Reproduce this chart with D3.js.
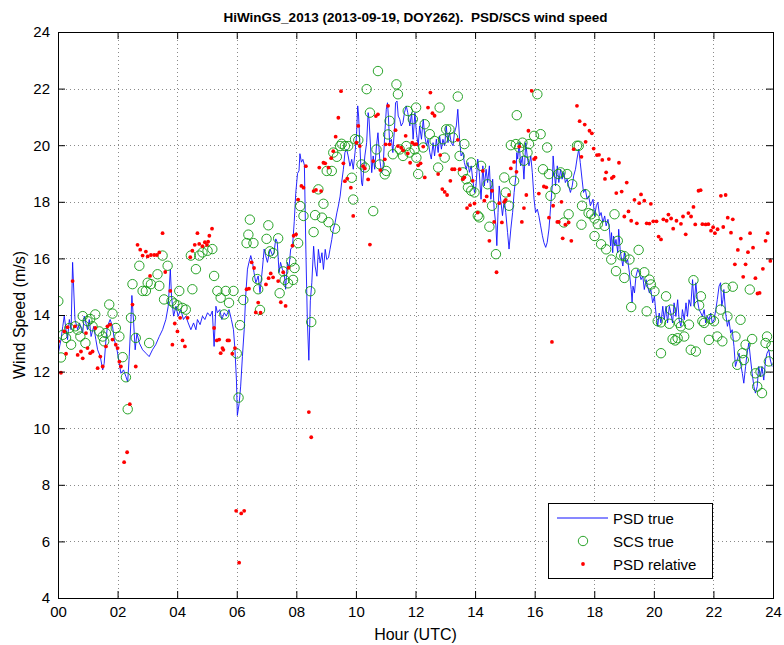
<!DOCTYPE html>
<html><head><meta charset="utf-8">
<script src="https://cdn.jsdelivr.net/npm/d3@7"></script>
<style>
body{margin:0;background:#fff}
text{font-family:"Liberation Sans",Arial,Helvetica,sans-serif;fill:#000;white-space:pre}
</style>
</head><body>
<svg id="chart" width="784" height="645"></svg>
<script>
// ---------------- data ----------------
const titleText = "HiWinGS_2013 (2013-09-19, DOY262).  PSD/SCS wind speed";
const xLabel = "Hour (UTC)";
const yLabel = "Wind Speed (m/s)";
const xTicks = [0,2,4,6,8,10,12,14,16,18,20,22,24];
const yTicks = [4,6,8,10,12,14,16,18,20,22,24];
const legendLabels = ["PSD true","SCS true","PSD relative"];

// PSD true wind speed [hour, m/s]
const psdTrue = [
[0.01,12.65],[0.10,13.13],[0.16,13.60],[0.21,13.96],[0.27,13.48],[0.32,13.13],[0.38,13.84],[0.44,13.48],[0.49,15.86],[0.57,13.84],
[0.66,13.48],[0.72,13.72],[0.83,13.36],[0.88,13.96],[0.99,13.48],[1.05,13.84],[1.11,13.24],[1.20,13.60],[1.27,13.13],[1.33,12.77],
[1.42,12.53],[1.50,12.06],[1.55,12.29],[1.61,13.13],[1.66,13.60],[1.75,13.84],[1.83,13.60],[1.89,13.13],[1.98,12.77],[2.06,12.29],
[2.11,11.94],[2.20,12.06],[2.28,11.82],[2.34,11.64],[2.39,12.53],[2.45,13.84],[2.48,14.69],[2.54,13.72],[2.59,12.77],[2.65,13.36],
[2.73,13.01],[2.84,12.77],[2.95,12.65],[3.06,12.53],[3.17,12.77],[3.28,12.95],[3.40,13.24],[3.51,13.48],[3.62,13.84],[3.70,14.31],
[3.77,15.62],[3.81,14.67],[3.88,13.96],[3.96,14.31],[4.03,13.96],[4.12,14.19],[4.21,13.84],[4.29,13.96],[4.37,13.72],[4.46,13.48],
[4.55,13.72],[4.63,13.48],[4.68,13.84],[4.77,13.66],[4.85,13.96],[4.93,13.84],[5.02,14.08],[5.11,13.96],[5.18,14.14],[5.24,12.89],
[5.30,14.31],[5.35,14.08],[5.43,14.19],[5.50,13.84],[5.58,14.08],[5.65,13.96],[5.74,14.19],[5.82,13.84],[5.89,13.48],[5.94,12.77],
[5.99,11.70],[6.02,10.45],[6.08,10.87],[6.13,11.46],[6.19,12.53],[6.25,13.48],[6.30,14.67],[6.36,15.62],[6.41,15.86],[6.47,16.10],
[6.53,15.86],[6.58,15.50],[6.64,15.14],[6.72,15.38],[6.78,14.79],[6.86,15.62],[6.92,16.33],[6.97,16.10],[7.03,15.86],[7.12,16.33],
[7.20,16.10],[7.25,16.21],[7.31,16.69],[7.36,16.57],[7.42,15.50],[7.47,15.86],[7.53,15.62],[7.59,15.50],[7.64,14.91],[7.70,15.86],
[7.75,15.62],[7.81,16.33],[7.87,16.40],[7.93,17.30],[7.98,18.30],[8.04,19.00],[8.09,19.10],[8.12,19.70],[8.17,19.40],[8.22,19.50],
[8.27,19.30],[8.32,16.30],[8.37,13.80],[8.42,12.40],[8.47,14.50],[8.52,15.14],[8.58,16.43],[8.63,15.73],[8.69,15.37],[8.74,16.32],
[8.80,15.84],[8.86,16.20],[8.91,15.61],[8.97,16.32],[9.02,15.96],[9.08,16.02],[9.13,16.32],[9.19,16.67],[9.24,17.02],[9.30,17.26],
[9.36,17.61],[9.41,17.85],[9.47,18.20],[9.52,18.67],[9.58,19.15],[9.63,19.74],[9.69,19.85],[9.74,19.62],[9.80,19.26],[9.86,19.50],
[9.91,19.15],[9.97,19.74],[10.02,20.33],[10.06,21.39],[10.09,21.03],[10.13,20.09],[10.19,18.67],[10.22,18.56],[10.27,19.26],[10.30,19.62],
[10.36,20.09],[10.41,21.15],[10.44,20.92],[10.49,19.97],[10.53,19.03],[10.58,19.62],[10.63,19.15],[10.69,19.97],[10.74,20.44],[10.80,19.50],
[10.86,19.03],[10.91,19.15],[10.97,20.44],[11.02,21.27],[11.06,21.50],[11.09,21.03],[11.13,20.09],[11.19,20.21],[11.24,19.74],[11.30,20.68],
[11.33,21.50],[11.38,21.56],[11.42,21.03],[11.47,20.92],[11.52,20.68],[11.58,20.80],[11.63,21.15],[11.69,21.39],[11.74,21.15],[11.81,20.68],
[11.87,21.15],[11.92,20.21],[11.98,21.15],[12.03,20.45],[12.09,19.98],[12.14,20.68],[12.20,20.21],[12.26,20.92],[12.31,20.33],[12.37,19.98],
[12.42,20.21],[12.48,19.74],[12.53,19.51],[12.59,20.09],[12.64,19.62],[12.70,20.21],[12.76,19.74],[12.81,20.33],[12.87,19.86],[12.92,20.21],
[12.98,19.98],[13.03,20.68],[13.09,20.09],[13.14,20.45],[13.20,20.09],[13.26,19.98],[13.31,20.45],[13.37,20.68],[13.42,21.27],[13.48,20.21],
[13.53,19.62],[13.59,19.74],[13.64,19.39],[13.70,19.15],[13.76,19.39],[13.81,19.04],[13.87,19.27],[13.92,18.80],[13.98,18.33],[14.03,18.56],
[14.09,19.51],[14.14,19.04],[14.20,18.09],[14.26,19.27],[14.31,18.56],[14.37,19.15],[14.42,18.68],[14.48,19.27],[14.53,18.09],[14.59,18.80],
[14.64,17.74],[14.70,17.15],[14.73,16.45],[14.77,17.62],[14.81,18.56],[14.87,17.98],[14.92,17.51],[14.98,18.09],[15.03,17.62],[15.09,16.92],
[15.14,16.33],[15.20,17.04],[15.26,17.62],[15.31,18.33],[15.37,18.92],[15.40,19.74],[15.43,19.51],[15.48,20.09],[15.53,19.27],[15.59,19.62],
[15.64,18.80],[15.70,20.09],[15.76,19.51],[15.81,19.27],[15.87,19.62],[15.92,19.04],[15.98,18.09],[16.03,17.62],[16.09,17.74],[16.14,17.51],
[16.20,17.15],[16.26,16.80],[16.31,16.56],[16.37,16.39],[16.42,16.56],[16.48,17.04],[16.53,17.74],[16.59,18.56],[16.62,19.62],[16.66,19.04],
[16.70,18.56],[16.76,19.27],[16.81,18.68],[16.87,19.15],[16.92,18.80],[16.98,19.04],[17.03,18.68],[17.09,18.80],[17.14,18.56],[17.20,18.33],
[17.26,18.56],[17.31,18.92],[17.37,19.15],[17.42,19.51],[17.48,19.86],[17.53,19.39],[17.59,18.80],[17.64,18.33],[17.70,18.45],[17.76,18.09],
[17.81,18.21],[17.87,17.86],[17.96,18.09],[18.01,17.50],[18.07,17.86],[18.12,17.98],[18.18,17.50],[18.23,17.62],[18.29,17.27],[18.35,17.50],
[18.40,17.15],[18.46,17.38],[18.51,17.03],[18.55,16.44],[18.58,16.91],[18.62,16.20],[18.65,16.79],[18.69,16.44],[18.73,16.67],[18.79,16.20],
[18.82,17.03],[18.87,16.32],[18.90,16.08],[18.96,15.73],[19.01,16.20],[19.07,15.85],[19.12,15.96],[19.18,15.49],[19.24,14.90],[19.27,14.43],
[19.30,15.02],[19.35,14.78],[19.40,15.37],[19.46,15.61],[19.51,15.49],[19.57,15.25],[19.63,15.37],[19.68,14.90],[19.74,15.25],[19.79,15.02],
[19.85,14.78],[19.90,14.90],[19.96,14.43],[20.02,14.66],[20.07,14.07],[20.13,13.60],[20.18,14.07],[20.24,13.72],[20.30,14.31],[20.35,13.83],
[20.41,14.31],[20.46,13.72],[20.52,14.31],[20.57,14.07],[20.63,13.72],[20.68,14.43],[20.74,13.95],[20.80,14.54],[20.85,13.83],[20.91,13.60],
[20.96,14.19],[21.02,13.83],[21.08,14.43],[21.13,13.95],[21.18,14.54],[21.24,14.31],[21.30,15.25],[21.35,14.31],[21.41,15.14],[21.46,14.54],
[21.52,14.19],[21.58,14.07],[21.63,13.95],[21.69,14.19],[21.74,13.72],[21.80,13.95],[21.85,13.83],[21.91,14.07],[21.96,13.72],[22.02,13.83],
[22.08,14.19],[22.13,14.54],[22.19,15.02],[22.24,15.14],[22.28,14.31],[22.32,14.54],[22.35,14.90],[22.41,14.07],[22.47,13.60],[22.52,13.83],
[22.58,13.36],[22.63,13.48],[22.69,12.89],[22.74,12.18],[22.80,12.41],[22.86,12.65],[22.91,12.30],[22.97,11.94],[23.02,11.59],[23.08,12.18],
[23.13,12.65],[23.19,13.01],[23.25,12.41],[23.30,11.94],[23.36,11.47],[23.41,11.24],[23.47,11.47],[23.52,12.18],[23.58,11.82],[23.63,12.18],
[23.69,11.70],[23.75,12.41],[23.80,12.65],[23.86,12.77],[23.91,12.41],[23.97,12.18]
];

// SCS true wind speed [hour, m/s]
const scsTrue = [
[0.01,14.49],[0.10,12.50],[0.16,13.30],[0.27,13.19],[0.38,13.54],[0.44,12.95],[0.58,13.60],[0.66,13.48],[0.75,13.24],[0.83,13.96],
[0.92,13.01],[0.99,13.78],[1.08,13.86],[1.16,13.60],[1.25,14.02],[1.39,13.42],[1.50,13.24],[1.55,13.07],[1.61,13.36],[1.72,14.37],
[1.83,14.05],[1.94,13.54],[2.06,13.24],[2.17,12.51],[2.28,11.80],[2.34,10.67],[2.45,13.90],[2.50,15.09],[2.61,13.19],[2.73,15.74],
[2.84,14.85],[2.95,14.85],[3.01,15.14],[3.06,13.01],[3.12,15.09],[3.34,15.44],[3.40,15.03],[3.51,16.10],[3.56,14.55],[3.68,15.74],
[3.81,14.49],[3.90,14.41],[4.01,14.34],[4.07,14.85],[4.18,14.25],[4.29,14.19],[4.46,16.10],[4.51,14.91],[4.63,15.62],[4.74,16.10],
[4.85,16.21],[5.02,16.27],[5.18,16.33],[5.24,15.38],[5.35,14.85],[5.46,14.61],[5.58,14.02],[5.63,14.85],[5.74,14.43],[5.89,14.85],
[6.00,12.64],[6.06,11.08],[6.11,13.64],[6.22,14.53],[6.33,16.54],[6.39,16.84],[6.44,17.37],[6.56,16.54],[6.69,15.27],[6.72,14.91],
[6.78,14.18],[7.00,16.69],[7.06,17.17],[7.11,16.25],[7.22,16.19],[7.39,16.71],[7.44,14.77],[7.56,15.54],[7.61,15.24],[7.72,15.12],
[7.83,15.89],[7.89,15.24],[7.94,15.66],[8.06,16.54],[8.13,17.85],[8.24,17.50],[8.47,14.84],[8.50,13.75],[8.58,16.93],[8.63,17.53],
[8.74,18.44],[8.86,17.44],[8.91,17.93],[9.02,19.09],[9.08,17.28],[9.19,19.09],[9.24,19.74],[9.30,17.05],[9.36,19.59],[9.47,19.97],
[9.52,20.05],[9.63,19.97],[9.74,19.97],[9.86,18.85],[9.91,18.08],[9.97,20.21],[10.08,20.18],[10.19,19.32],[10.30,19.21],[10.36,21.98],
[10.47,21.15],[10.58,17.67],[10.69,19.85],[10.74,22.62],[10.80,19.32],[10.97,18.97],[11.02,19.09],[11.08,20.38],[11.13,20.86],[11.24,19.68],
[11.36,22.15],[11.41,21.80],[11.47,19.85],[11.58,19.62],[11.69,19.97],[11.74,21.21],[11.80,19.74],[11.91,20.92],[11.97,19.85],[12.02,21.33],
[12.03,19.56],[12.09,18.98],[12.26,19.92],[12.31,20.74],[12.48,20.39],[12.64,20.15],[12.76,19.21],[12.81,21.33],[12.92,20.21],[12.98,19.56],
[13.03,20.56],[13.14,20.56],[13.26,20.27],[13.42,21.72],[13.48,19.62],[13.59,19.04],[13.64,20.04],[13.70,18.80],[13.76,18.51],[13.87,19.39],
[13.87,18.39],[13.98,18.33],[14.09,17.51],[14.14,17.45],[14.20,19.27],[14.42,18.62],[14.48,17.12],[14.57,17.86],[14.70,16.15],[14.98,18.86],
[15.03,18.33],[15.14,17.86],[15.20,20.00],[15.31,18.74],[15.37,20.04],[15.40,21.06],[15.48,19.92],[15.59,20.09],[15.64,19.45],[15.76,19.74],
[15.81,20.04],[15.98,20.33],[16.09,21.80],[16.20,20.39],[16.28,19.15],[16.42,19.92],[16.48,18.98],[16.53,18.21],[16.70,18.45],[16.79,18.98],
[16.87,19.04],[16.98,17.27],[17.09,18.98],[17.14,17.56],[17.26,18.62],[17.42,19.98],[17.48,19.98],[17.57,17.19],[17.59,17.86],[17.70,18.27],
[17.81,17.60],[17.90,17.56],[18.01,17.41],[18.01,16.79],[18.12,17.21],[18.23,16.50],[18.35,17.15],[18.40,16.32],[18.57,15.96],[18.68,17.56],
[18.73,15.55],[18.79,16.62],[18.90,16.11],[19.01,16.08],[19.01,15.31],[19.18,15.96],[19.24,14.28],[19.40,15.49],[19.49,16.30],[19.68,15.51],
[19.76,14.13],[19.85,15.25],[19.90,15.08],[20.02,14.84],[20.13,13.78],[20.24,13.74],[20.24,12.65],[20.41,14.66],[20.52,13.69],[20.57,14.19],
[20.63,13.15],[20.72,13.10],[20.80,13.18],[20.85,13.72],[20.91,13.60],[21.02,13.24],[21.18,13.66],[21.24,12.77],[21.33,15.23],[21.41,12.71],
[21.52,14.34],[21.58,14.66],[21.63,13.78],[21.69,13.72],[21.85,13.12],[21.91,13.86],[22.02,13.78],[22.13,13.24],[22.24,14.19],[22.30,13.07],
[22.41,14.96],[22.47,13.95],[22.65,15.00],[22.74,13.24],[22.80,12.24],[22.91,13.83],[22.97,12.65],[23.02,12.41],[23.08,12.95],[23.22,14.90],
[23.30,13.15],[23.41,11.94],[23.47,11.47],[23.58,12.00],[23.63,11.24],[23.75,13.01],[23.80,13.24],[23.86,12.36],[23.95,12.90]
];

// PSD relative wind speed [hour, m/s]
const psdRelative = [
[0.01,13.07],[0.10,11.96],[0.21,13.42],[0.27,12.63],[0.32,13.57],[0.49,15.20],[0.57,13.60],[0.66,12.59],[0.77,12.71],[0.83,12.47],
[0.94,13.36],[0.99,12.83],[1.08,12.65],[1.16,12.71],[1.25,13.54],[1.33,12.12],[1.42,12.53],[1.50,12.18],[1.61,12.89],[1.66,13.60],
[1.75,13.66],[1.83,13.13],[1.94,12.95],[2.00,12.83],[2.06,12.35],[2.11,12.18],[2.22,8.80],[2.32,9.15],[2.41,10.85],[2.50,14.37],
[2.61,12.18],[2.67,16.48],[2.76,16.31],[2.84,16.10],[2.95,16.24],[3.01,16.07],[3.09,15.38],[3.12,16.12],[3.23,16.12],[3.32,16.12],
[3.40,16.21],[3.51,16.89],[3.60,15.52],[3.77,14.85],[3.84,12.95],[3.92,13.70],[4.01,13.42],[4.10,13.90],[4.18,13.10],[4.26,12.89],
[4.35,13.90],[4.44,16.04],[4.51,16.27],[4.59,16.48],[4.68,16.89],[4.74,16.51],[4.85,16.43],[4.93,16.57],[5.00,16.48],[5.04,16.59],
[5.08,16.80],[5.17,17.05],[5.24,13.54],[5.33,13.10],[5.41,13.13],[5.46,12.65],[5.52,12.83],[5.55,12.77],[5.69,13.10],[5.74,13.10],
[5.85,12.63],[5.94,12.83],[5.98,7.08],[6.08,5.25],[6.15,6.99],[6.25,7.08],[6.33,14.91],[6.41,14.93],[6.50,15.86],[6.58,15.66],
[6.64,14.09],[6.72,14.44],[6.80,14.08],[6.98,15.08],[7.07,15.30],[7.14,15.47],[7.22,15.33],[7.39,15.20],[7.48,14.45],[7.56,15.51],
[7.64,14.32],[7.74,15.67],[7.87,16.45],[7.91,16.80],[7.99,16.85],[8.06,18.08],[8.17,18.56],[8.24,18.50],[8.32,19.26],[8.42,10.57],
[8.50,9.68],[8.58,18.38],[8.66,18.42],[8.77,19.21],[8.83,18.38],[8.91,19.38],[8.97,19.36],[9.08,19.21],[9.17,19.54],[9.24,19.79],
[9.32,20.30],[9.41,20.97],[9.50,21.91],[9.58,19.36],[9.63,18.73],[9.71,18.82],[9.83,18.50],[9.91,17.50],[10.02,20.09],[10.08,20.68],
[10.13,19.97],[10.24,19.26],[10.30,19.18],[10.41,18.79],[10.47,16.49],[10.58,19.44],[10.67,21.03],[10.74,21.09],[10.82,19.12],[10.97,19.50],
[11.00,20.03],[11.08,21.39],[11.13,20.03],[11.33,20.53],[11.41,19.97],[11.52,19.91],[11.58,19.82],[11.67,20.33],[11.74,19.71],[11.82,19.38],
[11.89,20.09],[11.97,20.03],[12.03,20.04],[12.09,19.29],[12.17,19.36],[12.26,19.95],[12.31,18.86],[12.42,21.33],[12.50,21.86],[12.57,21.13],
[12.64,21.04],[12.76,18.98],[12.83,19.65],[12.90,18.45],[12.98,18.35],[13.06,18.24],[13.17,18.74],[13.23,19.15],[13.31,19.15],[13.42,20.19],
[13.48,19.15],[13.59,18.80],[13.64,18.86],[13.73,17.78],[13.83,17.88],[13.92,18.74],[13.98,17.94],[14.09,17.62],[14.26,19.09],[14.31,18.04],
[14.39,18.19],[14.48,16.62],[14.57,18.39],[14.64,17.29],[14.72,15.51],[14.81,17.95],[14.90,17.27],[14.98,18.00],[15.03,18.07],[15.14,18.24],
[15.20,19.18],[15.31,19.41],[15.39,19.06],[15.48,19.95],[15.57,17.29],[15.64,17.78],[15.72,18.24],[15.79,20.51],[15.90,21.92],[15.98,19.51],
[16.03,19.56],[16.14,18.29],[16.31,18.54],[16.39,18.51],[16.48,17.44],[16.58,13.05],[16.62,17.86],[16.76,17.29],[16.81,17.29],[16.90,18.00],
[16.94,16.71],[17.03,17.19],[17.14,17.27],[17.23,16.62],[17.31,19.86],[17.42,21.39],[17.51,20.85],[17.57,19.59],[17.68,20.73],[17.71,20.12],
[17.84,20.51],[17.92,20.42],[17.98,19.88],[18.09,19.65],[18.16,19.66],[18.27,19.48],[18.36,18.81],[18.40,19.04],[18.49,19.51],[18.59,18.84],
[18.65,18.89],[18.74,18.31],[18.83,19.38],[18.92,18.36],[19.01,17.48],[19.09,18.68],[19.15,17.66],[19.24,17.33],[19.35,18.07],[19.43,17.24],
[19.51,17.95],[19.57,18.26],[19.68,18.04],[19.76,17.24],[19.85,17.23],[19.90,17.93],[19.98,17.31],[20.09,17.31],[20.16,16.77],[20.24,16.67],
[20.32,17.38],[20.43,17.33],[20.49,17.55],[20.58,17.41],[20.65,17.05],[20.76,17.33],[20.91,17.22],[20.98,17.48],[21.07,16.85],[21.16,17.60],
[21.25,17.48],[21.33,17.82],[21.39,17.20],[21.50,18.39],[21.57,18.41],[21.63,17.21],[21.74,17.20],[21.83,17.21],[21.92,16.98],[21.99,17.10],
[22.05,16.89],[22.14,17.03],[22.25,18.21],[22.33,17.11],[22.41,18.24],[22.48,17.44],[22.59,16.91],[22.65,17.38],[22.72,15.79],[22.82,16.30],
[22.92,16.70],[23.00,15.35],[23.08,15.79],[23.16,16.22],[23.23,16.89],[23.33,16.38],[23.41,15.30],[23.48,14.76],[23.55,14.78],[23.66,15.63],
[23.75,16.62],[23.82,16.89],[23.91,15.91]
];

// ---------------- drawing ----------------
const svg = d3.select("#chart");
const L = 58, R = 773, T = 32, B = 598;
const x = d3.scaleLinear().domain([0,24]).range([L,R]);
const y = d3.scaleLinear().domain([4,24]).range([B,T]);

svg.append("rect").attr("width",784).attr("height",645).attr("fill","#fff");

// grid
const grid = svg.append("g").attr("stroke","#8a8a8a").attr("stroke-width",1).attr("stroke-dasharray","1,3");
grid.selectAll(".gx").data(xTicks.slice(1,-1)).join("line")
  .attr("x1",d=>Math.round(x(d))+0.5).attr("x2",d=>Math.round(x(d))+0.5).attr("y1",T).attr("y2",B);
grid.selectAll(".gy").data(yTicks.slice(1,-1)).join("line")
  .attr("y1",d=>Math.round(y(d))+0.5).attr("y2",d=>Math.round(y(d))+0.5).attr("x1",L).attr("x2",R);

// clip
svg.append("clipPath").attr("id","clip").append("rect").attr("x",L).attr("y",T).attr("width",R-L).attr("height",B-T);
const plot = svg.append("g").attr("clip-path","url(#clip)");

// PSD true line
plot.append("path").datum(psdTrue)
  .attr("fill","none").attr("stroke","#1010ff").attr("stroke-width",0.9).attr("stroke-linejoin","round")
  .attr("d", d3.line().x(d=>x(d[0])).y(d=>y(d[1])));

// SCS true circles
plot.selectAll(".scs").data(scsTrue).join("circle")
  .attr("cx",d=>x(d[0])).attr("cy",d=>y(d[1])).attr("r",4.7)
  .attr("fill","none").attr("stroke","#119911").attr("stroke-width",0.9);

// PSD relative dots
plot.selectAll(".rel").data(psdRelative).join("circle")
  .attr("cx",d=>x(d[0])).attr("cy",d=>y(d[1])).attr("r",1.9)
  .attr("fill","#ff0000");

// axes
const fmt = d => String(d).padStart(2,"0");
const tickLen = 7;
const axB = svg.append("g").attr("transform",`translate(0,${B})`)
  .call(d3.axisBottom(x).tickValues(xTicks).tickFormat(fmt).tickSizeInner(-tickLen).tickSizeOuter(0).tickPadding(8));
const axT = svg.append("g").attr("transform",`translate(0,${T})`)
  .call(d3.axisTop(x).tickValues(xTicks).tickFormat("").tickSizeInner(-tickLen).tickSizeOuter(0));
const axL = svg.append("g").attr("transform",`translate(${L},0)`)
  .call(d3.axisLeft(y).tickValues(yTicks).tickSizeInner(-tickLen).tickSizeOuter(0).tickPadding(8));
const axR = svg.append("g").attr("transform",`translate(${R},0)`)
  .call(d3.axisRight(y).tickValues(yTicks).tickFormat("").tickSizeInner(-tickLen).tickSizeOuter(0));
[axB,axT,axL,axR].forEach(a=>{
  a.select(".domain").remove();
  a.selectAll("line").attr("stroke","#000");
  a.selectAll("text").attr("font-size",15).attr("font-family",'"Liberation Sans",Arial,sans-serif').attr("fill","#000");
});
svg.append("rect").attr("x",L+0.5).attr("y",T+0.5).attr("width",R-L).attr("height",B-T)
  .attr("fill","none").attr("stroke","#000").attr("stroke-width",1);

// labels
svg.append("text").attr("x",(L+R)/2).attr("y",22).attr("text-anchor","middle")
  .attr("font-size",13.5).attr("font-weight","bold").attr("xml:space","preserve").text(titleText);
svg.append("text").attr("x",(L+R)/2).attr("y",640).attr("text-anchor","middle")
  .attr("font-size",16).text(xLabel);
svg.append("text").attr("transform",`translate(25,${(T+B)/2}) rotate(-90)`).attr("text-anchor","middle")
  .attr("font-size",16).text(yLabel);

// legend
const lg = svg.append("g");
lg.append("rect").attr("x",548.5).attr("y",503.5).attr("width",164).attr("height",75)
  .attr("fill","#fff").attr("stroke","#000").attr("stroke-width",1);
const rowY = [518,541,564];
lg.append("line").attr("x1",557).attr("x2",608).attr("y1",rowY[0]).attr("y2",rowY[0])
  .attr("stroke","#1010ff").attr("stroke-width",1);
lg.append("circle").attr("cx",583).attr("cy",rowY[1]).attr("r",4.7).attr("fill","none").attr("stroke","#119911").attr("stroke-width",0.9);
lg.append("circle").attr("cx",583).attr("cy",rowY[2]).attr("r",1.9).attr("fill","#ff0000");
lg.selectAll(".lt").data(legendLabels).join("text")
  .attr("x",613).attr("y",(d,i)=>rowY[i]+5.5).attr("font-size",15).text(d=>d);
</script>
</body></html>
